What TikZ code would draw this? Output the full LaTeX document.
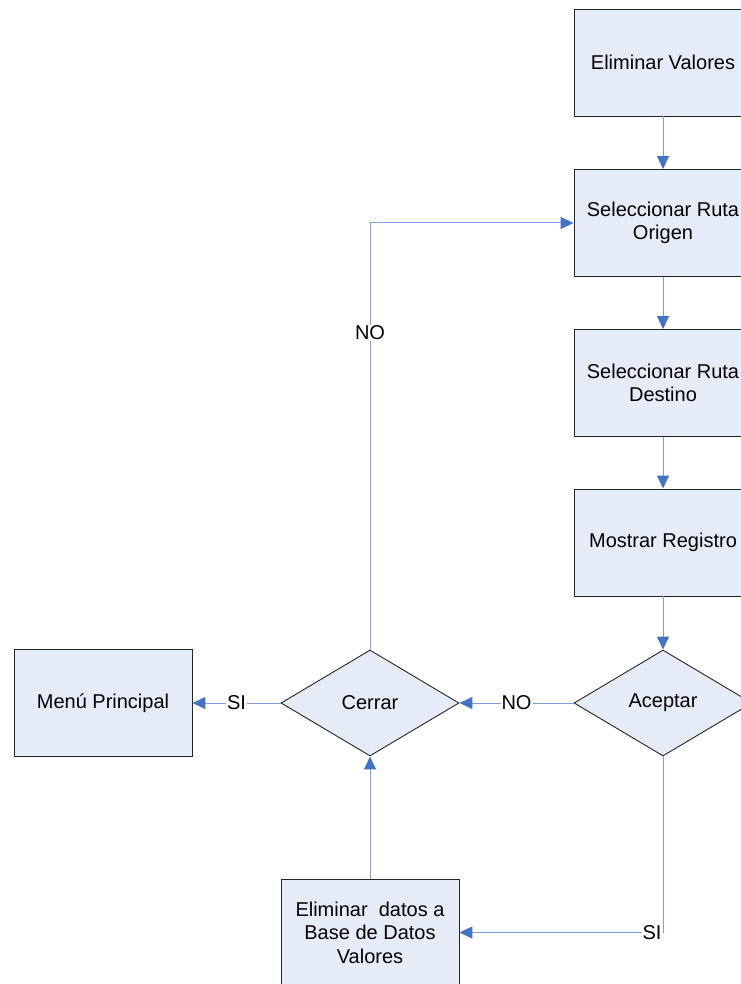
\documentclass[tikz,border=0pt]{standalone}
\usepackage{fontspec}
\setmainfont{Liberation Sans}
\usetikzlibrary{shapes.geometric,arrows.meta}
\definecolor{boxfill}{HTML}{E6ECF7}
\definecolor{linecol}{HTML}{7DA0DC}
\definecolor{tipcol}{HTML}{4472C4}
\tikzset{
  every node/.style={font=\fontsize{20}{23.5}\selectfont},
  stepbox/.style={draw=black!85,line width=0.9pt,fill=boxfill,minimum width=178pt,minimum height=107pt,inner sep=0pt,align=center},
  decision/.style={diamond,draw=black!85,line width=0.9pt,fill=boxfill,minimum width=178pt,minimum height=106pt,inner sep=0pt,aspect=1.68},
  conn/.style={draw=linecol,line width=1pt,-{Triangle[length=13pt,width=12pt,color=tipcol]}},
  lab/.style={fill=white,inner sep=1pt}
}
\begin{document}
\begin{tikzpicture}[x=1pt,y=-1pt]
\useasboundingbox (0,0) rectangle (740,984);
\node[stepbox] (b1) at (663,62.5) {Eliminar Valores};
\node[stepbox] (b2) at (663,223) {Seleccionar Ruta\\Origen};
\node[stepbox] (b3) at (663,383) {Seleccionar Ruta\\Destino};
\node[stepbox] (b4) at (663,542.5) {Mostrar Registro};
\node[decision] (acep) at (663,703) {Aceptar};
\node[decision] (cerr) at (370,703) {Cerrar};
\node[stepbox] (menu) at (103,703) {Menú Principal};
\node[stepbox] (elim) at (370,932.5) {Eliminar\ \ datos a\\Base de Datos\\Valores};
\draw[conn] (b1) -- (b2);
\draw[conn] (b2) -- (b3);
\draw[conn] (b3) -- (b4);
\draw[conn] (b4) -- (acep);
\draw[conn] (acep) -- node[lab]{NO} (cerr);
\draw[conn] (cerr) -- node[lab]{SI} (menu);
\draw[conn] (cerr.north) |- node[lab,pos=0.371]{NO} (b2.west);
\draw[conn] (acep.south) |- node[lab,pos=0.5,anchor=east]{SI} (elim.east);
\draw[conn] (elim) -- (cerr);
\end{tikzpicture}
\end{document}
